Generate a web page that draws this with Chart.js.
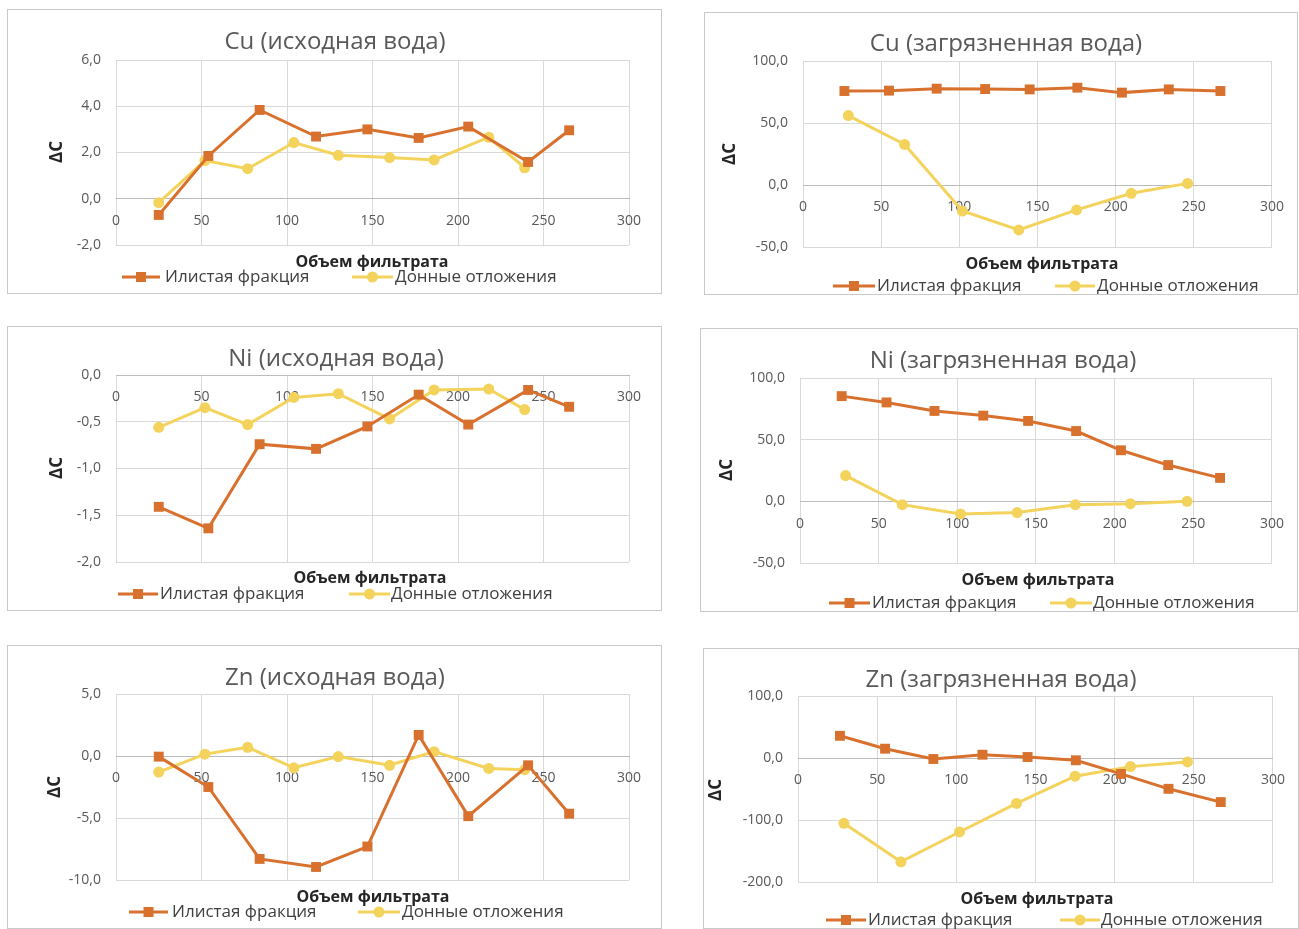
<!DOCTYPE html>
<html>
<head>
<meta charset="utf-8">
<script src="https://cdn.jsdelivr.net/npm/chart.js@4.4.1/dist/chart.umd.min.js"></script>
<style>
  html, body { margin: 0; padding: 0; background: #fff; width: 1299px; height: 929px; overflow: hidden; }
  canvas { position: absolute; }
</style>
</head>
<body>
<canvas id="cuRaw"></canvas>
<canvas id="cuPol"></canvas>
<canvas id="niRaw"></canvas>
<canvas id="niPol"></canvas>
<canvas id="znRaw"></canvas>
<canvas id="znPol"></canvas>
<script>
// Filtrate volume for every measurement
const rawSiltX = [25, 54, 84, 117, 147, 177, 206, 241, 265];
const rawSedX  = [25, 52, 77, 104, 130, 160, 186, 218, 239];
const polSiltX = [26.5, 55, 85.5, 116.5, 145, 175.5, 204, 234, 267];
const polSedX  = [29, 65, 102, 138, 175, 210, 246];

// ΔC, Cu
const cuRawSilt = [-0.70, 1.85, 3.84, 2.69, 3.00, 2.63, 3.12, 1.59, 2.96];
const cuRawSed  = [-0.17, 1.65, 1.30, 2.43, 1.88, 1.78, 1.68, 2.66, 1.34];
const cuPolSilt = [75.8, 76.1, 77.7, 77.4, 77.1, 78.5, 74.5, 77.1, 75.8];
const cuPolSed  = [56.0, 32.7, -21.0, -36.2, -20.1, -6.7, 1.3];

// ΔC, Ni
const niRawSilt = [-1.41, -1.64, -0.74, -0.79, -0.55, -0.21, -0.53, -0.16, -0.34];
const niRawSed  = [-0.56, -0.35, -0.53, -0.24, -0.20, -0.47, -0.16, -0.15, -0.37];
const niPolSilt = [85.3, 80.2, 73.3, 69.5, 65.2, 57.0, 41.4, 29.4, 19.0];
const niPolSed  = [20.9, -2.7, -10.2, -9.1, -2.7, -1.9, 0.0];

// ΔC, Zn
const znRawSilt = [-0.05, -2.5, -8.3, -8.95, -7.3, 1.7, -4.85, -0.75, -4.65];
const znRawSed  = [-1.3, 0.15, 0.7, -0.95, -0.05, -0.75, 0.35, -1.0, -1.1];
const znPolSilt = [35.8, 15.0, -1.6, 5.3, 1.6, -3.7, -25.7, -49.7, -71.1];
const znPolSed  = [-105.3, -167.4, -119.3, -73.3, -29.4, -13.9, -6.4];

// Axis ticks
const xTicks      = [0, 50, 100, 150, 200, 250, 300];
const cuRawYTicks = [-2, 0, 2, 4, 6];
const cuPolYTicks = [-50, 0, 50, 100];
const niRawYTicks = [-2, -1.5, -1, -0.5, 0];
const niPolYTicks = [-50, 0, 50, 100];
const znRawYTicks = [-10, -5, 0, 5];
const znPolYTicks = [-200, -100, 0, 100];

const seriesNames = ['Илистая фракция', 'Донные отложения'];
const xTitle = 'Объем фильтрата';
const yTitle = 'ΔC';

const ORANGE = '#d9712e';
const YELLOW = '#f3d35c';
const FONT = "'Open Sans', 'Noto Sans', sans-serif";

// Page placement of each chart: frame, plot rectangle and decorations
const panels = [
  { id: 'cuRaw', title: 'Cu (исходная вода)', silt: [rawSiltX, cuRawSilt], sed: [rawSedX, cuRawSed], yTicks: cuRawYTicks,
    box: [7, 9, 655, 285], plot: [116, 60, 629, 245], titleAt: [335, 42], xTitleAt: [372, 262], yTitleAt: [57, 152],
    legendY: 277, legend: [[122, 160, 165], [352, 393, 395]] },
  { id: 'cuPol', title: 'Cu (загрязненная вода)', silt: [polSiltX, cuPolSilt], sed: [polSedX, cuPolSed], yTicks: cuPolYTicks,
    box: [704, 12, 594, 283], plot: [803, 61, 1281, 247], titleAt: [1006, 44], xTitleAt: [1042, 264], yTitleAt: [730, 154],
    legendY: 286, legend: [[833, 875, 877], [1055, 1095, 1097]] },
  { id: 'niRaw', title: 'Ni (исходная вода)', silt: [rawSiltX, niRawSilt], sed: [rawSedX, niRawSed], yTicks: niRawYTicks,
    box: [7, 326, 655, 285], plot: [116, 375, 629, 562], titleAt: [336, 359], xTitleAt: [370, 578], yTitleAt: [57, 468],
    legendY: 594, legend: [[118, 158, 160], [349, 390, 391]] },
  { id: 'niPol', title: 'Ni (загрязненная вода)', silt: [polSiltX, niPolSilt], sed: [polSedX, niPolSed], yTicks: niPolYTicks,
    box: [700, 328, 598, 284], plot: [800, 378, 1277, 563], titleAt: [1003, 361], xTitleAt: [1038, 580], yTitleAt: [727, 470],
    legendY: 603, legend: [[829, 870, 872], [1050, 1092, 1093]] },
  { id: 'znRaw', title: 'Zn (исходная вода)', silt: [rawSiltX, znRawSilt], sed: [rawSedX, znRawSed], yTicks: znRawYTicks,
    box: [7, 645, 655, 284], plot: [116, 694, 629, 880], titleAt: [335, 678], xTitleAt: [373, 897], yTitleAt: [55, 787],
    legendY: 912, legend: [[129, 168, 172], [358, 400, 402]] },
  { id: 'znPol', title: 'Zn (загрязненная вода)', silt: [polSiltX, znPolSilt], sed: [polSedX, znPolSed], yTicks: znPolYTicks,
    box: [703, 648, 596, 281], plot: [798, 696, 1276, 882], titleAt: [1001, 680], xTitleAt: [1037, 899], yTitleAt: [716, 790],
    legendY: 920, legend: [[826, 866, 868], [1060, 1100, 1101]] }
];

const fmtComma = v => v.toFixed(1).replace('.', ',');
const toPoints = (xs, ys) => xs.map((x, i) => ({ x: x, y: ys[i] }));

// Frame, titles and legend drawn on top of each chart
const panelDecor = {
  id: 'panelDecor',
  afterDraw(chart, args, o) {
    const ctx = chart.ctx;
    const bx = o.box[0], by = o.box[1];
    ctx.save();
    ctx.strokeStyle = '#c9c9c9';
    ctx.lineWidth = 1;
    ctx.strokeRect(0.5, 0.5, o.box[2] - 1, o.box[3] - 1);

    ctx.textBaseline = 'middle';
    ctx.textAlign = 'center';
    ctx.fillStyle = '#595959';
    ctx.font = '24px ' + FONT;
    ctx.fillText(o.title, o.titleAt[0] - bx, o.titleAt[1] - by);

    ctx.fillStyle = '#262626';
    ctx.font = 'bold 16px ' + FONT;
    ctx.fillText(xTitle, o.xTitleAt[0] - bx, o.xTitleAt[1] - by);

    ctx.save();
    ctx.font = 'bold 17px ' + FONT;
    ctx.translate(o.yTitleAt[0] - bx, o.yTitleAt[1] - by);
    ctx.rotate(-Math.PI / 2);
    ctx.fillText(yTitle, 0, 0);
    ctx.restore();

    const ly = o.legendY - by;
    chart.data.datasets.forEach((ds, i) => {
      const [x1, x2, tx] = o.legend[i];
      const cx = (x1 + x2) / 2 - bx;
      ctx.strokeStyle = ds.borderColor;
      ctx.lineWidth = 3;
      ctx.beginPath();
      ctx.moveTo(x1 - bx, ly);
      ctx.lineTo(x2 - bx, ly);
      ctx.stroke();
      ctx.fillStyle = ds.backgroundColor;
      ctx.beginPath();
      if (ds.pointStyle === 'rect') {
        ctx.rect(cx - 5, ly - 5, 10, 10);
      } else {
        ctx.arc(cx, ly, 5.5, 0, Math.PI * 2);
      }
      ctx.fill();
      ctx.fillStyle = '#404040';
      ctx.font = '17px ' + FONT;
      ctx.textAlign = 'left';
      ctx.fillText(ds.label, tx - bx, ly);
    });
    ctx.restore();
  }
};

panels.forEach(p => {
  const [bx, by, bw, bh] = p.box;
  const [pl, pt, pr, pb] = p.plot;
  const cv = document.getElementById(p.id);
  cv.width = bw; cv.height = bh;
  cv.style.left = bx + 'px'; cv.style.top = by + 'px';
  cv.style.width = bw + 'px'; cv.style.height = bh + 'px';

  const yMin = p.yTicks[0], yMax = p.yTicks[p.yTicks.length - 1];
  const setTicks = arr => scale => { scale.ticks = arr.map(v => ({ value: v })); };

  new Chart(cv, {
    type: 'scatter',
    data: {
      datasets: [
        { label: seriesNames[0], data: toPoints(p.silt[0], p.silt[1]), showLine: true,
          borderColor: ORANGE, backgroundColor: ORANGE, borderWidth: 3,
          pointStyle: 'rect', pointRadius: 7, pointBorderWidth: 0 },
        { label: seriesNames[1], data: toPoints(p.sed[0], p.sed[1]), showLine: true,
          borderColor: YELLOW, backgroundColor: YELLOW, borderWidth: 3,
          pointStyle: 'circle', pointRadius: 5.5, pointBorderWidth: 0 }
      ]
    },
    options: {
      responsive: false,
      animation: false,
      devicePixelRatio: 1,
      events: [],
      layout: { padding: { top: pt - by, bottom: by + bh - pb, right: bx + bw - pr, left: 0 } },
      plugins: {
        legend: { display: false },
        tooltip: { enabled: false },
        panelDecor: { box: p.box, title: p.title, titleAt: p.titleAt, xTitleAt: p.xTitleAt,
                      yTitleAt: p.yTitleAt, legendY: p.legendY, legend: p.legend }
      },
      scales: {
        x: {
          type: 'linear', min: 0, max: 300, position: { y: 0 },
          afterBuildTicks: setTicks(xTicks),
          grid: { color: '#d9d9d9', lineWidth: 1, drawTicks: false },
          border: { display: true, color: '#bcbcbc', width: 1 },
          ticks: { display: false }
        },
        xl: {
          type: 'linear', axis: 'x', min: 0, max: 300, position: { y: 0 }, z: 1,
          afterBuildTicks: setTicks(xTicks),
          grid: { display: false, drawTicks: false },
          border: { display: false },
          ticks: { padding: 14, color: '#595959', font: { family: FONT, size: 14 }, maxRotation: 0,
                   callback: v => String(v) }
        },
        y: {
          type: 'linear', min: yMin, max: yMax,
          afterBuildTicks: setTicks(p.yTicks),
          afterFit: s => { s.width = pl - bx; },
          grid: { color: '#d9d9d9', lineWidth: 1, drawTicks: false },
          border: { display: false },
          ticks: { padding: 15, color: '#595959', font: { family: FONT, size: 14 },
                   callback: v => fmtComma(v) }
        }
      }
    },
    plugins: [panelDecor]
  });
});
</script>
</body>
</html>
